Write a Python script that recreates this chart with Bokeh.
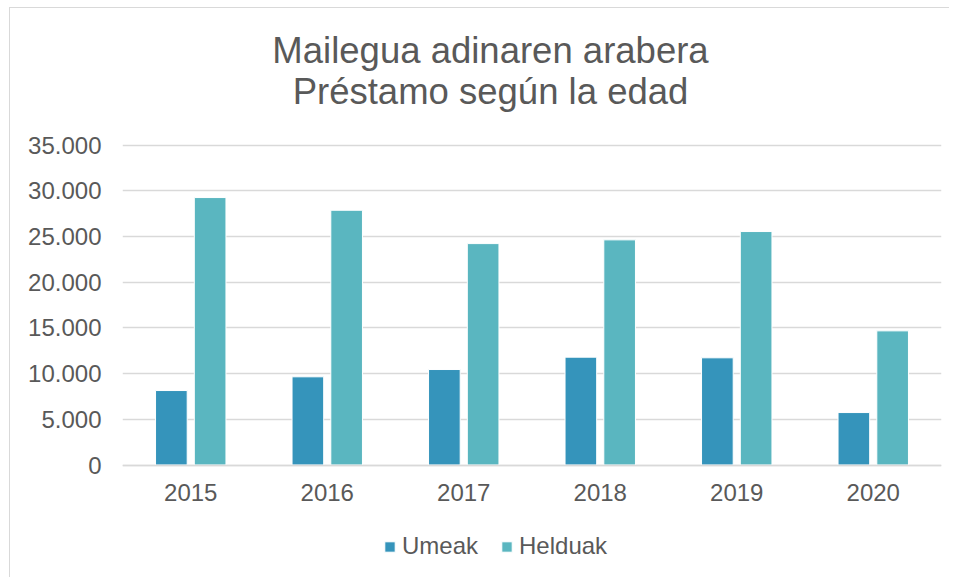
from bokeh.plotting import figure
from bokeh.models import FactorRange, Range1d, Legend, LegendItem, Label, ColumnDataSource
from bokeh.transform import dodge
from bokeh.embed import file_html
from bokeh.resources import INLINE

years = ["2015", "2016", "2017", "2018", "2019", "2020"]
umeak = [8150, 9650, 10450, 11800, 11730, 5740]
helduak = [29270, 27880, 24230, 24640, 25550, 14680]
series_names = ["Umeak", "Helduak"]
y_ticks = [0, 5000, 10000, 15000, 20000, 25000, 30000, 35000]
y_tick_labels = ["0", "5.000", "10.000", "15.000", "20.000", "25.000", "30.000", "35.000"]
title_lines = ["Mailegua adinaren arabera", "Préstamo según la edad"]

C_UME = "#3594BB"
C_HEL = "#5AB6C0"
TXT = "#595959"
GRID = "#D9D9D9"
FONT = "Liberation Sans"

# layout (pixels of the figure canvas)
W, H = 940, 570
FRAME_LEFT, FRAME_RIGHT_BORDER = 112, 9
Y0_PX = 456.5        # canvas y of value 0
YTOP_PX = 136.7      # canvas y of value 35000
units_per_px = (y_ticks[-1] - y_ticks[0]) / (Y0_PX - YTOP_PX)
y_start = -(H - Y0_PX) * units_per_px
y_end = y_ticks[-1] + YTOP_PX * units_per_px

src = ColumnDataSource(dict(year=years, umeak=umeak, helduak=helduak))

p = figure(
    width=W, height=H,
    x_range=FactorRange(factors=years, range_padding=0),
    y_range=Range1d(y_start, y_end),
    output_backend="svg", toolbar_location=None,
    min_border_left=FRAME_LEFT, min_border_right=FRAME_RIGHT_BORDER,
    min_border_top=0, min_border_bottom=0,
)
p.styles = {"border-left": "1px solid #D9D9D9", "border-top": "1px solid #D9D9D9",
            "margin-left": "9px", "margin-top": "7px"}
p.outline_line_color = None
p.background_fill_color = "white"
p.border_fill_color = "white"

r1 = p.vbar(x=dodge("year", -0.142, range=p.x_range), top="umeak", width=0.232,
            source=src, fill_color=C_UME, line_color="white", line_width=1)
r2 = p.vbar(x=dodge("year", 0.142, range=p.x_range), top="helduak", width=0.232,
            source=src, fill_color=C_HEL, line_color="white", line_width=1)

# axes
p.xgrid.grid_line_color = None
p.ygrid.grid_line_color = GRID
p.ygrid.grid_line_width = 1.6
p.yaxis.ticker = y_ticks
p.yaxis.major_label_overrides = {t: l for t, l in zip(y_ticks, y_tick_labels)}
p.yaxis.axis_line_color = None
p.yaxis.major_tick_line_color = None
p.yaxis.minor_tick_line_color = None
p.yaxis.major_tick_out = 0
p.yaxis.major_tick_in = 0
p.yaxis.major_label_standoff = 21
for ax in (p.xaxis, p.yaxis):
    ax.major_label_text_font = FONT
    ax.major_label_text_font_size = "24px"
    ax.major_label_text_color = TXT
p.xaxis.fixed_location = 0
p.xaxis.axis_line_color = GRID
p.xaxis.axis_line_width = 1.6
p.xaxis.major_tick_line_color = None
p.xaxis.major_tick_out = 0
p.xaxis.major_tick_in = 0
p.xaxis.major_label_standoff = 19

legend = Legend(items=[LegendItem(label=series_names[0], renderers=[r1]),
                       LegendItem(label=series_names[1], renderers=[r2])],
                orientation="horizontal", location=(261, 18))
legend.label_text_font = FONT
legend.label_text_font_size = "24px"
legend.label_text_color = TXT
legend.glyph_width = 13
legend.glyph_height = 13
legend.label_height = 28
legend.label_standoff = 6
legend.spacing = 22
legend.padding = 0
legend.margin = 0
legend.border_line_color = None
legend.background_fill_alpha = 0
p.add_layout(legend, "center")

for txt, base_px in zip(title_lines, [42.3, 83.0]):
    p.add_layout(Label(x=368, y=H - base_px, x_units="screen", y_units="screen",
                       text=txt, text_align="center", text_baseline="alphabetic",
                       text_font=FONT, text_font_size="36.5px", text_color=TXT))

open("out.html", "w").write(file_html(p, INLINE))
